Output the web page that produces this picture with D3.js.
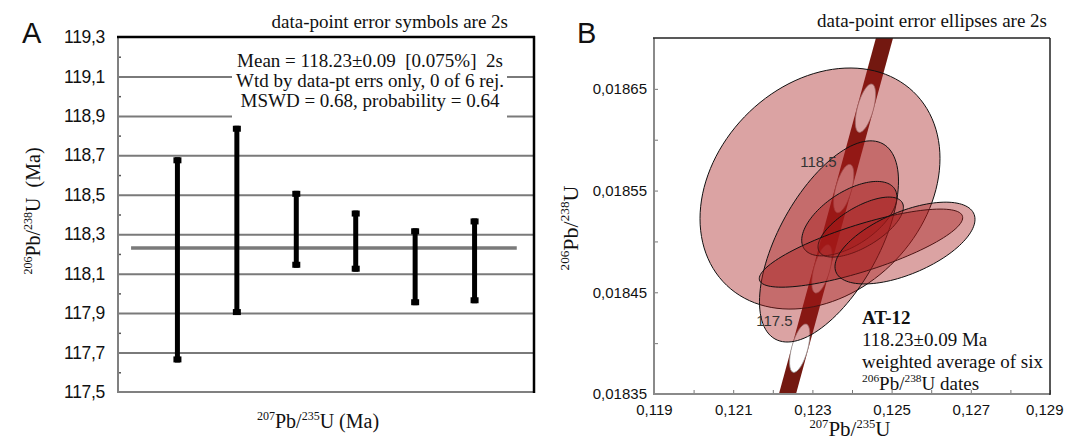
<!DOCTYPE html>
<html>
<head>
<meta charset="utf-8">
<script src="https://cdn.jsdelivr.net/npm/d3@7"></script>
<style>
  body { margin: 0; background: #fff; }
  text { white-space: pre; }
</style>
</head>
<body>
<script>
var w = 1065;
var h = 440;
var serif = "'Liberation Serif', 'Times New Roman', serif";
var sans = "'Liberation Sans', Arial, sans-serif";

// ---- panel A data: 206Pb/238U dates with 2s error bars (Ma)
var ageLow = [117.65, 117.89, 118.13, 118.11, 117.94, 117.95];
var ageHigh = [118.69, 118.85, 118.52, 118.42, 118.33, 118.38];
var meanAge = 118.23;
var ageTicks = [119.3, 119.1, 118.9, 118.7, 118.5, 118.3, 118.1, 117.9, 117.7, 117.5];
var ageGrid = [119.1, 118.9, 118.7, 118.5, 118.3, 118.1, 117.9, 117.7];
var ageMinor = [119.2, 119.0, 118.8, 118.6, 118.4, 118.2, 118.0, 117.8, 117.6];
var statLines = [
  "Mean = 118.23\u00b10.09  [0.075%]  2s",
  "Wtd by data-pt errs only, 0 of 6 rej.",
  "MSWD = 0.68, probability = 0.64"
];

// ---- panel B data: concordia ellipses (2s), centre, half-widths, correlation
var ellX = [0.123192, 0.123419, 0.123932, 0.12422, 0.124227, 0.125338];
var ellY = [0.018552, 0.0185, 0.0185224, 0.0185141, 0.0184934, 0.0184984];
var ellSx = [0.00303, 0.001755, 0.001202, 0.001078, 0.002568, 0.001768];
var ellSy = [0.0001185, 0.0000989, 0.0000366, 0.0000295, 0.0000384, 0.0000402];
var ellRho = [0.25, 0.6, 0.58, 0.66, 0.78, 0.58];

// concordia band ends and age markers
var bandX = [0.1223, 0.12489];
var bandY = [0.01834, 0.01871];
var concAges = ["117.5", "118.0", "118.5", "119.0"];
var concX = [0.12268, 0.12324, 0.12379, 0.12434];
var concY = [0.018395, 0.018473, 0.018552, 0.018631];
var concShown = [true, false, true, false];

var xTicksB = [0.119, 0.121, 0.123, 0.125, 0.127, 0.129];
var xTickLabelsB = ["0,119", "0,121", "0,123", "0,125", "0,127", "0,129"];
var xMinorB = [0.119, 0.12, 0.121, 0.122, 0.123, 0.124, 0.125, 0.126, 0.127, 0.128, 0.129];
var yTicksB = [0.01835, 0.01845, 0.01855, 0.01865];
var yTickLabelsB = ["0,01835", "0,01845", "0,01855", "0,01865"];
var yMinorB = [0.01835, 0.0184, 0.01845, 0.0185, 0.01855, 0.0186, 0.01865];
var infoLines = ["118.23\u00b10.09 Ma", "weighted average of six"];

var svg = d3.select("body").append("svg").attr("width", w).attr("height", h);

// writes e.g. 206Pb/238U with superscript mass numbers
function isoText(sel, parts, fs) {
  var up = false;
  parts.forEach(function (p) {
    var t = sel.append("tspan").text(p[0]);
    if (p[1]) {
      t.attr("font-size", fs * 0.6).attr("dy", up ? 0 : -fs * 0.4);
      up = true;
    } else {
      t.attr("font-size", fs).attr("dy", up ? fs * 0.4 : 0);
      up = false;
    }
  });
}

// ================= Panel A
var xA = d3.scaleLinear().domain([0, 7]).range([118, 534]);
var yA = d3.scaleLinear().domain([117.5, 119.3]).range([392, 37]);

var grid = svg.append("g").attr("transform", "translate(118,0)")
  .call(d3.axisLeft(yA).tickValues(ageGrid).tickSize(-416).tickFormat(""));
grid.select(".domain").remove();
grid.selectAll("line").attr("stroke", "#7a7a7a").attr("stroke-width", 2);

// white box behind the statistics
svg.append("rect").attr("x", 232).attr("y", 50).attr("width", 275).attr("height", 69).attr("fill", "#fff");

var minor = svg.append("g").attr("transform", "translate(118,0)")
  .call(d3.axisRight(yA).tickValues(ageMinor).tickSize(3).tickFormat(""));
minor.select(".domain").remove();
minor.selectAll("line").attr("stroke", "#555").attr("stroke-width", 1.5);

var yAxisA = svg.append("g").attr("transform", "translate(118,0)")
  .call(d3.axisLeft(yA).tickValues(ageTicks).tickSize(0).tickPadding(13)
    .tickFormat(function (d) { return d3.format(".1f")(d).replace(".", ","); }));
yAxisA.select(".domain").remove();
yAxisA.selectAll("text").attr("font-family", sans).attr("font-size", 17.5).attr("fill", "#111")
  .attr("letter-spacing", -0.3);

// frame
svg.append("line").attr("x1", 118).attr("x2", 118).attr("y1", 37).attr("y2", 392).attr("stroke", "#808080").attr("stroke-width", 2);
svg.append("line").attr("x1", 117).attr("x2", 535).attr("y1", 392).attr("y2", 392).attr("stroke", "#808080").attr("stroke-width", 2);
svg.append("line").attr("x1", 117).attr("x2", 535).attr("y1", 37).attr("y2", 37).attr("stroke", "#000").attr("stroke-width", 2.5);
svg.append("line").attr("x1", 534).attr("x2", 534).attr("y1", 36).attr("y2", 393).attr("stroke", "#000").attr("stroke-width", 2.5);

// mean line
svg.append("line")
  .attr("x1", xA(0.22)).attr("x2", xA(6.71))
  .attr("y1", yA(meanAge)).attr("y2", yA(meanAge))
  .attr("stroke", "#7a7a7a").attr("stroke-width", 3.5);

// error bars
svg.selectAll(".bar").data(ageLow).enter().append("line")
  .attr("x1", function (d, i) { return xA(i + 1); })
  .attr("x2", function (d, i) { return xA(i + 1); })
  .attr("y1", function (d, i) { return yA(ageHigh[i]); })
  .attr("y2", function (d) { return yA(d); })
  .attr("stroke", "#000").attr("stroke-width", 5);
svg.selectAll(".capTop").data(ageHigh).enter().append("rect")
  .attr("x", function (d, i) { return xA(i + 1) - 4; })
  .attr("y", function (d) { return yA(d); })
  .attr("width", 8).attr("height", 6).attr("fill", "#000");
svg.selectAll(".capBot").data(ageLow).enter().append("rect")
  .attr("x", function (d, i) { return xA(i + 1) - 4; })
  .attr("y", function (d) { return yA(d) - 6; })
  .attr("width", 8).attr("height", 6).attr("fill", "#000");

svg.selectAll(".stat").data(statLines).enter().append("text")
  .attr("x", 370).attr("y", function (d, i) { return 67 + i * 20; })
  .attr("text-anchor", "middle").attr("font-family", serif).attr("font-size", 19)
  .attr("fill", "#111").text(function (d) { return d; });

svg.append("text").attr("x", 508).attr("y", 28).attr("text-anchor", "end")
  .attr("font-family", serif).attr("font-size", 19).attr("fill", "#111")
  .text("data-point error symbols are 2s");

svg.append("text").attr("x", 22).attr("y", 43).attr("font-family", sans).attr("font-size", 29)
  .attr("fill", "#111").text("A");

var labA = svg.append("text").attr("transform", "translate(40,211) rotate(-90)")
  .attr("text-anchor", "middle").attr("font-family", serif).attr("fill", "#111");
isoText(labA, [["206", true], ["Pb/", false], ["238", true], ["U  (Ma)", false]], 20);

var labAx = svg.append("text").attr("x", 318).attr("y", 428)
  .attr("text-anchor", "middle").attr("font-family", serif).attr("fill", "#111");
isoText(labAx, [["207", true], ["Pb/", false], ["235", true], ["U (Ma)", false]], 20);

// ================= Panel B
var xB = d3.scaleLinear().domain([0.119, 0.129]).range([654, 1050]);
var yB = d3.scaleLinear().domain([0.01835, 0.0187]).range([394, 38]);

svg.append("clipPath").attr("id", "clipB").append("rect")
  .attr("x", 654).attr("y", 38).attr("width", 396).attr("height", 356);
var plotB = svg.append("g").attr("clip-path", "url(#clipB)");

plotB.append("path")
  .datum(d3.zip(bandX, bandY))
  .attr("d", d3.line().x(function (d) { return xB(d[0]); }).y(function (d) { return yB(d[1]); }))
  .attr("stroke", "#731810").attr("stroke-width", 16.5).attr("fill", "none");

var bandAngle = Math.atan2(xB(bandX[1]) - xB(bandX[0]), yB(bandY[0]) - yB(bandY[1])) * 180 / Math.PI;

plotB.selectAll(".mark").data(concAges).enter().append("ellipse")
  .attr("cx", 0).attr("cy", 0).attr("rx", 8).attr("ry", 25)
  .attr("transform", function (d, i) {
    return "translate(" + xB(concX[i]) + "," + yB(concY[i]) + ") rotate(" + bandAngle + ")";
  })
  .attr("fill", "#fff").attr("stroke", "#999").attr("stroke-width", 0.7);

function ellipsePts(i) {
  var pts = [];
  for (var k = 0; k <= 120; k++) {
    var t = k / 120 * 2 * Math.PI;
    var ex = ellX[i] + ellSx[i] * Math.cos(t);
    var ey = ellY[i] + ellSy[i] * (ellRho[i] * Math.cos(t) + Math.sqrt(1 - ellRho[i] * ellRho[i]) * Math.sin(t));
    pts.push([xB(ex), yB(ey)]);
  }
  return pts;
}

plotB.selectAll(".ell").data(ellX).enter().append("path")
  .attr("d", function (d, i) { return d3.line()(ellipsePts(i)) + "Z"; })
  .attr("fill", "rgb(165,25,25)").attr("fill-opacity", 0.4)
  .attr("stroke", "#111").attr("stroke-width", 1);

plotB.selectAll(".agelab").data(concAges.filter(function (d, i) { return concShown[i]; })).enter()
  .append("text")
  .attr("x", function (d) { return xB(concX[concAges.indexOf(d)]) - 7; })
  .attr("y", function (d) { return yB(concY[concAges.indexOf(d)]) - 22; })
  .attr("text-anchor", "end").attr("font-family", sans).attr("font-size", 15).attr("fill", "#333")
  .text(function (d) { return d; });

// axes B
var xMin = svg.append("g").attr("transform", "translate(0,394)")
  .call(d3.axisTop(xB).tickValues(xMinorB).tickSize(4).tickFormat(""));
xMin.select(".domain").remove();
xMin.selectAll("line").attr("stroke", "#777");
var yMin = svg.append("g").attr("transform", "translate(654,0)")
  .call(d3.axisRight(yB).tickValues(yMinorB).tickSize(4).tickFormat(""));
yMin.select(".domain").remove();
yMin.selectAll("line").attr("stroke", "#777");

var xAxisB = svg.append("g").attr("transform", "translate(0,394)")
  .call(d3.axisBottom(xB).tickValues(xTicksB).tickSize(0).tickPadding(10)
    .tickFormat(function (d, i) { return xTickLabelsB[i]; }));
xAxisB.select(".domain").remove();
xAxisB.selectAll("text").attr("font-family", sans).attr("font-size", 15).attr("fill", "#111");
// last label pulled in so it stays inside the picture
xAxisB.selectAll("text").filter(function (d, i) { return i === xTicksB.length - 1; })
  .attr("text-anchor", "end").attr("x", 13);

var yAxisB = svg.append("g").attr("transform", "translate(654,0)")
  .call(d3.axisLeft(yB).tickValues(yTicksB).tickSize(0).tickPadding(7)
    .tickFormat(function (d, i) { return yTickLabelsB[i]; }));
yAxisB.select(".domain").remove();
yAxisB.selectAll("text").attr("font-family", sans).attr("font-size", 15).attr("fill", "#111");

svg.append("line").attr("x1", 654).attr("x2", 654).attr("y1", 38).attr("y2", 395).attr("stroke", "#8a8a8a").attr("stroke-width", 2);
svg.append("line").attr("x1", 653).attr("x2", 1050).attr("y1", 394).attr("y2", 394).attr("stroke", "#8a8a8a").attr("stroke-width", 2);
svg.append("line").attr("x1", 653).attr("x2", 1050).attr("y1", 38).attr("y2", 38).attr("stroke", "#222").attr("stroke-width", 1.5);
svg.append("line").attr("x1", 1050).attr("x2", 1050).attr("y1", 38).attr("y2", 395).attr("stroke", "#222").attr("stroke-width", 1.5);

svg.append("text").attr("x", 1047).attr("y", 27).attr("text-anchor", "end")
  .attr("font-family", serif).attr("font-size", 19).attr("fill", "#111")
  .text("data-point error ellipses are 2s");

svg.append("text").attr("x", 577).attr("y", 43).attr("font-family", sans).attr("font-size", 29)
  .attr("fill", "#111").text("B");

svg.append("text").attr("x", 862).attr("y", 324).attr("font-family", serif).attr("font-size", 19)
  .attr("font-weight", "bold").attr("fill", "#111").text("AT-12");
svg.selectAll(".info").data(infoLines).enter().append("text")
  .attr("x", 862).attr("y", function (d, i) { return 346 + i * 22; })
  .attr("font-family", serif).attr("font-size", 19).attr("fill", "#111")
  .text(function (d) { return d; });
var dates = svg.append("text").attr("x", 862).attr("y", 390).attr("font-family", serif).attr("fill", "#111");
isoText(dates, [["206", true], ["Pb/", false], ["238", true], ["U dates", false]], 19);

var labB = svg.append("text").attr("transform", "translate(578,228) rotate(-90)")
  .attr("text-anchor", "middle").attr("font-family", serif).attr("fill", "#111");
isoText(labB, [["206", true], ["Pb/", false], ["238", true], ["U", false]], 22);

var labBx = svg.append("text").attr("x", 850).attr("y", 436)
  .attr("text-anchor", "middle").attr("font-family", serif).attr("fill", "#111");
isoText(labBx, [["207", true], ["Pb/", false], ["235", true], ["U", false]], 21);
</script>
</body>
</html>
